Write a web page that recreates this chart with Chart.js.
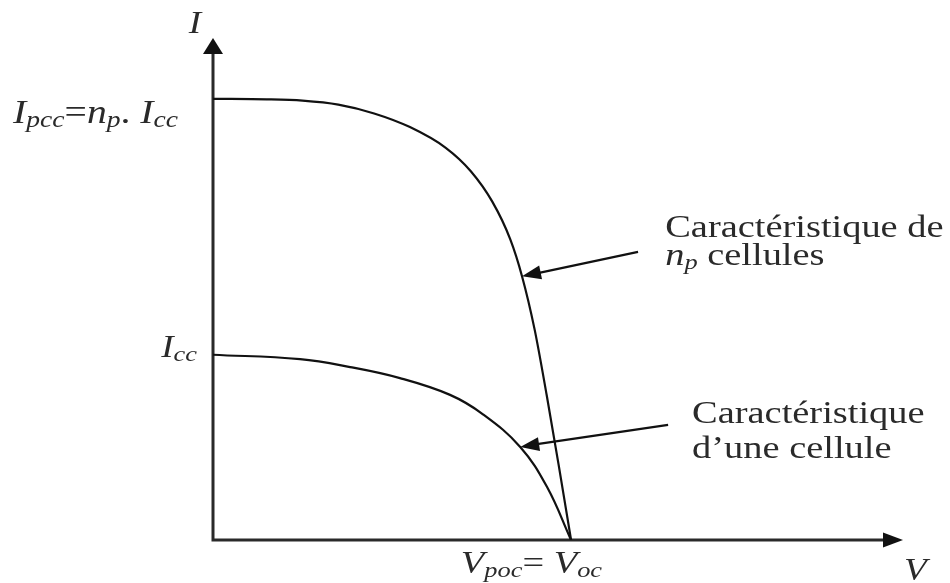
<!DOCTYPE html>
<html>
<head>
<meta charset="utf-8">
<script src="https://cdn.jsdelivr.net/npm/chart.js@4/dist/chart.umd.min.js"></script>
<style>
    html, body { margin: 0; padding: 0; background: #fff; }
    #wrap { width: 950px; height: 583px; }
</style>
</head>
<body>
<div id="wrap"><canvas id="iv-graph"></canvas></div>
<script>
// I(V) curves, normalised: Voc = 1, Ipcc = 1
const voltageNp = [0, 0.15, 0.25, 0.35, 0.45, 0.55, 0.65, 0.72, 0.78, 0.83, 0.863, 0.898, 0.932, 0.966, 1];
const currentNp = [1.0, 0.999, 0.996, 0.987, 0.967, 0.936, 0.889, 0.836, 0.767, 0.682, 0.598, 0.478, 0.328, 0.167, 0];
const voltageCell = [0, 0.243, 0.383, 0.522, 0.662, 0.754, 0.858, 0.933, 1];
const currentCell = [0.420, 0.410, 0.392, 0.367, 0.329, 0.285, 0.211, 0.120, 0];

// axis marks, labels as [text, style] pieces ('i' italic, 's' subscript)
const yTickValues = [1, 0.42];
const yTickLabels = [
    [['I', 'i'], ['pcc', 's'], ['=', ''], ['n', 'i'], ['p', 's'], ['. ', ''], ['I', 'i'], ['cc', 's']],
    [['I', 'i'], ['cc', 's']]
];
const xTickValues = [1];
const xTickLabels = [
    [['V', 'i'], ['poc', 's'], ['= ', ''], ['V', 'i'], ['oc', 's']]
];

// curve notes: which curve point the arrow hits, where its tail sits
const noteTexts = [
    [[['Caractéristique de', '']], [['n', 'i'], ['p', 's'], [' cellules', '']]],
    [[['Caractéristique', '']], [['d’une cellule', '']]]
];
const notePointIndex = [10, 6];
const noteTails = [[1.187, 0.653], [1.271, 0.261]];

const xMax = 1.927;
const yMax = 1.138;

const FONT = '"Liberation Serif", "Times New Roman", serif';
const SX = 1.2;          // text is drawn a little wide
const TEXT = '#2a2a2a';

function pieceFont(p, size) {
    const sub = p[1] === 's';
    const italic = p[1] === 'i' || sub;
    return (italic ? 'italic ' : '') + Math.round(sub ? size * 0.7 : size) + 'px ' + FONT;
}

function drawRich(ctx, parts, x, y, size, align) {
    let w = 0;
    parts.forEach(p => { ctx.font = pieceFont(p, size); w += ctx.measureText(p[0]).width; });
    ctx.save();
    ctx.translate(x, y);
    ctx.scale(SX, 1);
    ctx.fillStyle = TEXT;
    ctx.textBaseline = 'alphabetic';
    ctx.textAlign = 'left';
    let cx = align === 'right' ? -w : align === 'center' ? -w / 2 : 0;
    parts.forEach(p => {
        ctx.font = pieceFont(p, size);
        ctx.fillText(p[0], cx, p[1] === 's' ? size * 0.13 : 0);
        cx += ctx.measureText(p[0]).width;
    });
    ctx.restore();
}

function arrowHead(ctx, tx, ty, fx, fy, len, half) {
    const a = Math.atan2(ty - fy, tx - fx);
    ctx.beginPath();
    ctx.moveTo(tx, ty);
    ctx.lineTo(tx - len * Math.cos(a) + half * Math.sin(a), ty - len * Math.sin(a) - half * Math.cos(a));
    ctx.lineTo(tx - len * Math.cos(a) - half * Math.sin(a), ty - len * Math.sin(a) + half * Math.cos(a));
    ctx.closePath();
    ctx.fill();
}

const axesPlugin = {
    id: 'axesPlugin',
    beforeDatasetsDraw(chart) {
        const ctx = chart.ctx;
        const xs = chart.scales.x, ys = chart.scales.y;
        const x0 = xs.getPixelForValue(0), y0 = ys.getPixelForValue(0);
        const xEnd = xs.getPixelForValue(xMax), yTop = ys.getPixelForValue(yMax);

        ctx.save();
        ctx.strokeStyle = '#2a2a2a';
        ctx.fillStyle = '#111';
        ctx.lineWidth = 3;
        ctx.beginPath();
        ctx.moveTo(x0, y0 + 1.5);
        ctx.lineTo(x0, yTop + 10);
        ctx.moveTo(x0 - 1.5, y0);
        ctx.lineTo(xEnd - 10, y0);
        ctx.stroke();
        arrowHead(ctx, x0, yTop, x0, y0, 16, 10);
        arrowHead(ctx, xEnd, y0, x0, y0, 20, 7.5);
        ctx.restore();
    },
    afterDatasetsDraw(chart) {
        const ctx = chart.ctx;
        const xs = chart.scales.x, ys = chart.scales.y;
        const x0 = xs.getPixelForValue(0), y0 = ys.getPixelForValue(0);
        const xEnd = xs.getPixelForValue(xMax), yTop = ys.getPixelForValue(yMax);

        // axis names
        drawRich(ctx, [['I', 'i']], x0 - 18, yTop - 5, 31, 'center');
        drawRich(ctx, [['V', 'i']], xEnd + 1, y0 + 40, 31, 'left');

        // tick labels
        const yTickShift = [[-35, 24, 32.5], [-16, 2, 31]];
        yTickValues.forEach((v, i) => {
            const py = ys.getPixelForValue(v);
            drawRich(ctx, yTickLabels[i], x0 + yTickShift[i][0], py + yTickShift[i][1], yTickShift[i][2], 'right');
        });
        xTickValues.forEach((v, i) => {
            const px = xs.getPixelForValue(v);
            drawRich(ctx, xTickLabels[i], px + 31, y0 + 33, 31.5, 'right');
        });

        // notes with arrows onto the curves
        const curves = [[voltageNp, currentNp], [voltageCell, currentCell]];
        const textAt = [[[1.263, 0.687], [1.263, 0.624]], [[1.338, 0.265], [1.338, 0.186]]];
        noteTexts.forEach((lines, i) => {
            const k = notePointIndex[i];
            const tx = xs.getPixelForValue(curves[i][0][k]);
            const ty = ys.getPixelForValue(curves[i][1][k]);
            const fx = xs.getPixelForValue(noteTails[i][0]);
            const fy = ys.getPixelForValue(noteTails[i][1]);
            ctx.save();
            ctx.strokeStyle = '#111';
            ctx.fillStyle = '#111';
            ctx.lineWidth = 2.2;
            ctx.beginPath();
            ctx.moveTo(fx, fy);
            ctx.lineTo(tx + 10, ty - 1.8);
            ctx.stroke();
            arrowHead(ctx, tx, ty, fx, fy, 19, 7);
            ctx.restore();
            lines.forEach((parts, j) => {
                drawRich(ctx, parts, xs.getPixelForValue(textAt[i][j][0]), ys.getPixelForValue(textAt[i][j][1]), 32, 'left');
            });
        });
    }
};

const ctx = document.getElementById('iv-graph').getContext('2d');
const ivChart = new Chart(ctx, {
    type: 'scatter',
    data: {
        datasets: [{
            label: 'np cellules',
            data: voltageNp.map((v, i) => ({ x: v, y: currentNp[i] })),
            showLine: true,
            borderColor: '#111',
            borderWidth: 2.2,
            cubicInterpolationMode: 'monotone',
            pointRadius: 0
        }, {
            label: 'une cellule',
            data: voltageCell.map((v, i) => ({ x: v, y: currentCell[i] })),
            showLine: true,
            borderColor: '#111',
            borderWidth: 2.2,
            tension: 0.4,
            pointRadius: 0
        }]
    },
    options: {
        responsive: true,
        maintainAspectRatio: false,
        animation: false,
        layout: {
            padding: { left: 213, right: 47, top: 38, bottom: 43 }
        },
        scales: {
            x: { type: 'linear', min: 0, max: xMax, display: false },
            y: { type: 'linear', min: 0, max: yMax, display: false }
        },
        plugins: {
            legend: { display: false },
            tooltip: { enabled: false }
        }
    },
    plugins: [axesPlugin]
});
</script>
</body>
</html>
